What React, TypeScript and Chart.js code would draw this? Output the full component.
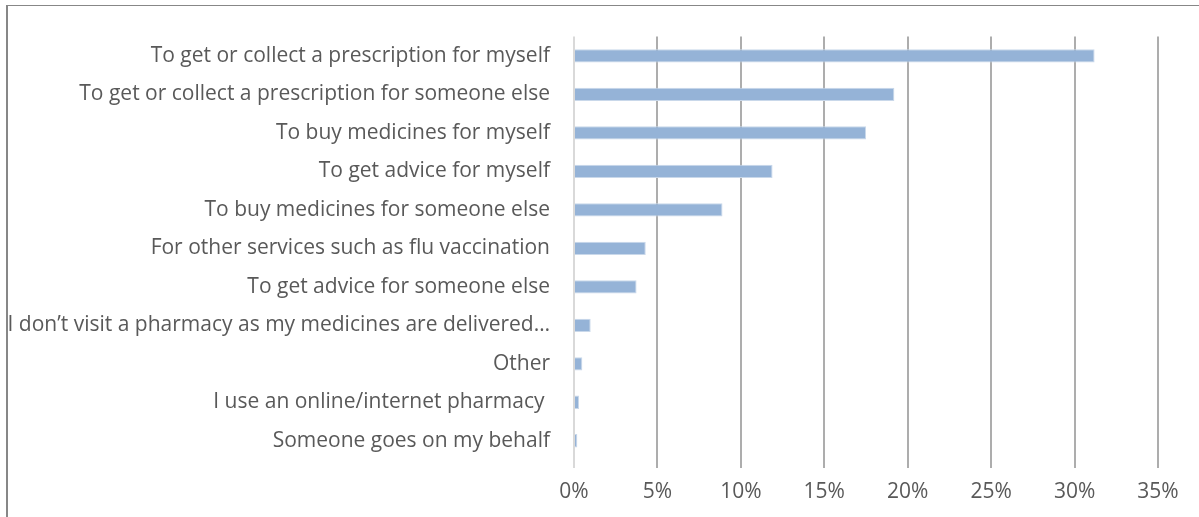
import React, { useEffect, useRef } from "react";
import { Chart, registerables } from "chart.js";

Chart.register(...registerables);

const categories = [
  "To get or collect a prescription for myself",
  "To get or collect a prescription for someone else",
  "To buy medicines for myself",
  "To get advice for myself",
  "To buy medicines for someone else",
  "For other services such as flu vaccination",
  "To get advice for someone else",
  "I don\u2019t visit a pharmacy as my medicines are delivered\u2026",
  "Other",
  "I use an online/internet pharmacy ",
  "Someone goes on my behalf",
];

const values = [31.2, 19.2, 17.5, 11.9, 8.9, 4.3, 3.75, 1.0, 0.5, 0.3, 0.2];

const xTicks = [0, 5, 10, 15, 20, 25, 30, 35];

export default function App() {
  const ref = useRef<HTMLCanvasElement | null>(null);

  useEffect(() => {
    if (!ref.current) return;
    const chart = new Chart(ref.current, {
      type: "bar",
      data: {
        labels: categories,
        datasets: [
          {
            data: values,
            backgroundColor: "#95B3D7",
            borderColor: "#C9D8EA",
            borderWidth: 1,
            categoryPercentage: 1,
            barPercentage: 0.345,
          },
        ],
      },
      options: {
        indexAxis: "y",
        animation: false,
        responsive: false,
        maintainAspectRatio: false,
        layout: { padding: { top: 35, right: 41, left: 0, bottom: 0 } },
        plugins: { legend: { display: false }, tooltip: { enabled: false } },
        scales: {
          x: {
            type: "linear",
            min: 0,
            max: 35,
            afterBuildTicks: (scale: any) => {
              scale.ticks = xTicks.map((v) => ({ value: v }));
            },
            afterFit: (scale: any) => {
              scale.height = 57;
            },
            grid: {
              color: (ctx: any) => (ctx.tick && ctx.tick.value === 0 ? "#D9D9D9" : "#ADADAD"),
              lineWidth: 2,
              drawTicks: true,
              tickLength: 8,
            },
            border: { display: false },
            ticks: {
              padding: 11,
              color: "#595959",
              font: { family: "Open Sans", size: 21 },
              callback: (v: any) => v + "%",
            },
          },
          y: {
            type: "category",
            afterFit: (scale: any) => {
              scale.width = 574;
            },
            grid: { display: false, drawTicks: false },
            border: { display: false },
            ticks: {
              padding: 24,
              color: "#595959",
              font: { family: "Open Sans", size: 21 },
              autoSkip: false,
            },
          },
        },
      },
    });
    return () => chart.destroy();
  }, []);

  return (
    <div style={{ position: "fixed", left: 0, top: 0, width: 1199, height: 517, background: "#fff", overflow: "hidden" }}>
      <div
        style={{
          position: "absolute",
          left: 6,
          top: 5,
          width: 1300,
          height: 600,
          borderLeft: "2px solid #878787",
          borderTop: "1px solid #878787",
        }}
      />
      <canvas ref={ref} width={1199} height={517} style={{ position: "absolute", left: 0, top: 0 }} />
    </div>
  );
}
